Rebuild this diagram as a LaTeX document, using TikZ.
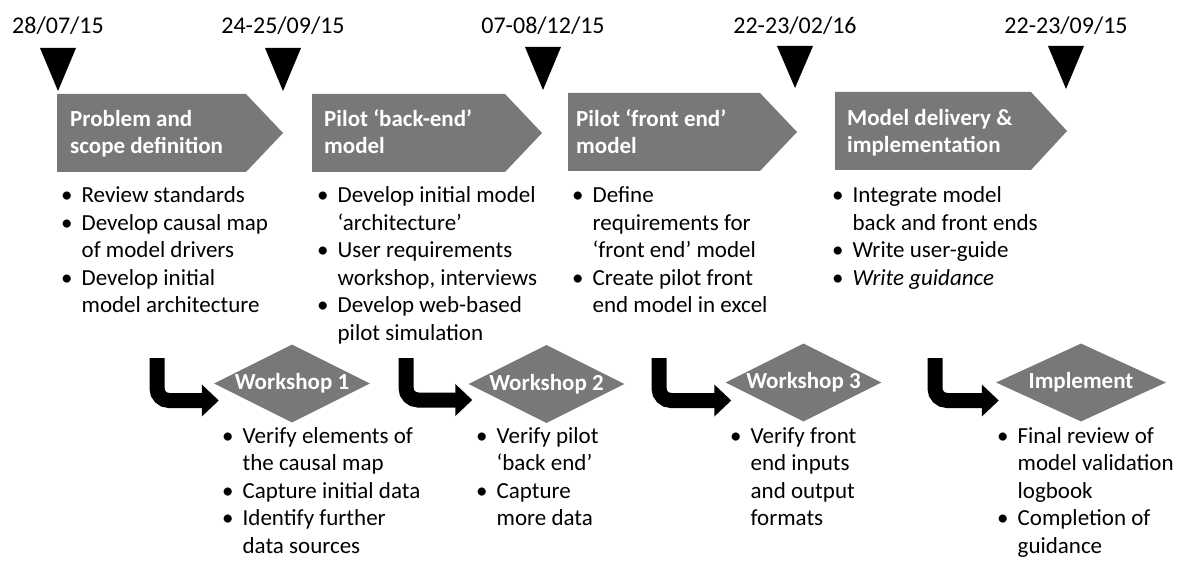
\documentclass[tikz,border=0pt]{standalone}
\usepackage{fontspec}
\setmainfont{Carlito}
\usetikzlibrary{shapes.geometric,arrows.meta}
\definecolor{stagegray}{RGB}{120,120,120}

\begin{document}
\begin{tikzpicture}[x=1pt, y=-1pt,
    date/.style={anchor=base, inner sep=0pt, font=\fontsize{24}{28}\selectfont},
    stage/.style={fill=stagegray},
    stagetext/.style={anchor=base west, inner sep=0pt, text=white, font=\fontsize{23}{27}\selectfont\bfseries},
    gate/.style={diamond, aspect=2, fill=stagegray, inner sep=0pt, minimum width=156pt, minimum height=78pt, text=white, font=\fontsize{23}{27}\selectfont\bfseries},
    points/.style={anchor=base west, inner sep=0pt, font=\fontsize{23}{27.5}\selectfont},
    turn/.style={line width=15pt, rounded corners=12pt, -{Triangle[length=17pt,width=31pt]}}]
\useasboundingbox (0,0) rectangle (1196,561);

% dates and milestone markers
\node[date] (d1) at (58,34) {28/07/15};
\node[date] (d2) at (283,34) {24-25/09/15};
\node[date] (d3) at (543,34) {07-08/12/15};
\node[date] (d4) at (795,34) {22-23/02/16};
\node[date] (d5) at (1066,34) {22-23/09/15};
\fill (40,48) -- (76,48) -- (58,91) -- cycle;
\fill (265,48) -- (301,48) -- (283,91) -- cycle;
\fill (525,47) -- (561,47) -- (543,90) -- cycle;
\fill (777,46) -- (813,46) -- (795,88) -- cycle;
\fill (1048,46) -- (1084,46) -- (1066,89) -- cycle;

% stages
\fill[stage] (57,94) -- (246,94) -- (283,133) -- (246,172) -- (57,172) -- cycle;
\fill[stage] (312,94) -- (505,94) -- (542,133) -- (505,172) -- (312,172) -- cycle;
\fill[stage] (568,93) -- (760,93) -- (797,132) -- (760,171) -- (568,171) -- cycle;
\fill[stage] (835,92) -- (1031,92) -- (1067,131) -- (1031,170) -- (835,170) -- cycle;
\node[stagetext] (s1) at (70,127) {\begin{tabular}[t]{@{}l@{}}Problem and\\scope definition\end{tabular}};
\node[stagetext] (s2) at (324,127) {\begin{tabular}[t]{@{}l@{}}Pilot ‘back-end’\\model\end{tabular}};
\node[stagetext] (s3) at (576,127) {\begin{tabular}[t]{@{}l@{}}Pilot ‘front end’\\model\end{tabular}};
\node[stagetext] (s4) at (847,126) {\begin{tabular}[t]{@{}l@{}}Model delivery \&\\implementation\end{tabular}};

\node[points] (p1) at (61,203) {\begin{tabular}[t]{@{}l@{\hspace{9pt}}l@{}}
  \textbullet & Review standards\\
  \textbullet & Develop causal map\\
  & of model drivers\\
  \textbullet & Develop initial\\
  & model architecture
\end{tabular}};
\node[points] (p2) at (317,203) {\begin{tabular}[t]{@{}l@{\hspace{9pt}}l@{}}
  \textbullet & Develop initial model\\
  & ‘architecture’\\
  \textbullet & User requirements\\
  & workshop, interviews\\
  \textbullet & Develop web-based\\
  & pilot simulation
\end{tabular}};
\node[points] (p3) at (572,203) {\begin{tabular}[t]{@{}l@{\hspace{9pt}}l@{}}
  \textbullet & Define\\
  & requirements for\\
  & ‘front end’ model\\
  \textbullet & Create pilot front\\
  & end model in excel
\end{tabular}};
\node[points] (p4) at (832,203) {\begin{tabular}[t]{@{}l@{\hspace{9pt}}l@{}}
  \textbullet & Integrate model\\
  & back and front ends\\
  \textbullet & Write user-guide\\
  \textbullet & \textit{Write guidance}
\end{tabular}};

% workshops
\node[gate] (w1) at (292,383.5) {Workshop 1};
\node[gate] (w2) at (546.5,384) {Workshop 2};
\node[gate] (w3) at (803.5,382.5) {Workshop 3};
\node[gate, minimum width=170pt] (w4) at (1081,382.5) {Implement};

\coordinate (t1) at (157,358);
\coordinate (t2) at (406,358);
\coordinate (t3) at (659,358);
\coordinate (t4) at (935,358);
\draw[turn] (t1) |- ([xshift=5pt,yshift=-17pt]w1.west);
\draw[turn] (t2) |- ([xshift=4pt,yshift=-16pt]w2.west);
\draw[turn] (t3) |- ([xshift=6pt,yshift=-18pt]w3.west);
\draw[turn] (t4) |- ([xshift=3pt,yshift=-18pt]w4.west);

\node[points] (q1) at (222,443) {\begin{tabular}[t]{@{}l@{\hspace{9pt}}l@{}}
  \textbullet & Verify elements of\\
  & the causal map\\
  \textbullet & Capture initial data\\
  \textbullet & Identify further\\
  & data sources
\end{tabular}};
\node[points] (q2) at (476,443) {\begin{tabular}[t]{@{}l@{\hspace{9pt}}l@{}}
  \textbullet & Verify pilot\\
  & ‘back end’\\
  \textbullet & Capture\\
  & more data
\end{tabular}};
\node[points] (q3) at (730,443) {\begin{tabular}[t]{@{}l@{\hspace{9pt}}l@{}}
  \textbullet & Verify front\\
  & end inputs\\
  & and output\\
  & formats
\end{tabular}};
\node[points] (q4) at (997,443) {\begin{tabular}[t]{@{}l@{\hspace{9pt}}l@{}}
  \textbullet & Final review of\\
  & model validation\\
  & logbook\\
  \textbullet & Completion of\\
  & guidance
\end{tabular}};
\end{tikzpicture}
\end{document}
